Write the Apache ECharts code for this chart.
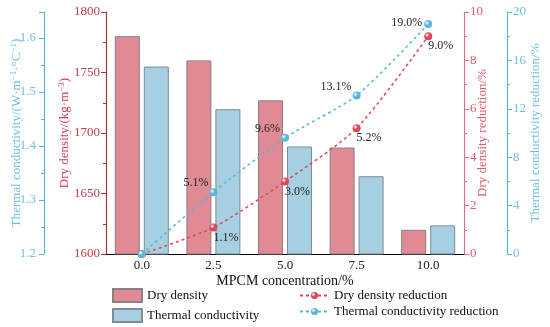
<!DOCTYPE html>
<html><head><meta charset="utf-8">
<script src="https://cdn.jsdelivr.net/npm/echarts@6/dist/echarts.min.js"></script>
<style>html,body{margin:0;padding:0;background:#fff}#c{width:550px;height:327px}</style>
</head><body><div id="c"></div>
<script>
const categories = ['0.0', '2.5', '5.0', '7.5', '10.0'];
const dryDensity = [1780, 1760, 1727, 1688, 1620];
const thermalConductivity = [1.547, 1.468, 1.399, 1.344, 1.253];
const dryDensityReduction = [0, 1.1, 3.0, 5.2, 9.0];
const thermalReduction = [0, 5.1, 9.6, 13.1, 19.0];

const FONT = 'Liberation Serif';
const RED_DARK = '#a8323f';
const RED = '#d9475b';
const RED_LIGHT = '#e27081';
const BLUE = '#5ab6d8';
const BAR_RED = '#e08a96';
const BAR_BLUE = '#a6d0e2';

function sphere(c) {
  return {type: 'radial', x: 0.35, y: 0.35, r: 0.7,
    colorStops: [{offset: 0, color: '#ffffff'}, {offset: 0.45, color: c}, {offset: 1, color: c}]};
}
const sup = {sup: {fontSize: 9, verticalAlign: 'top', padding: [0,0,6,0], fontFamily: FONT}};
const pct = p => p.value === 0 ? '' : p.value.toFixed(1) + '%';

const chart = echarts.init(document.getElementById('c'));
chart.setOption({
  animation: false,
  textStyle: {fontFamily: FONT},
  grid: {left: 106, right: 86, top: 12, bottom: 73, containLabel: false, outerBoundsMode: 'none'},
  xAxis: [{
    type: 'category', data: categories, position: 'bottom',
    axisLine: {lineStyle: {color: '#000', width: 1.2}},
    axisTick: {alignWithLabel: true, length: 4, lineStyle: {color: '#000'}},
    axisLabel: {color: '#222', fontSize: 13, fontFamily: FONT, margin: 5},
    name: 'MPCM concentration/%', nameLocation: 'middle', nameGap: 20, nameMoveOverlap: false,
    nameTextStyle: {color: '#111', fontSize: 14, fontFamily: FONT}
  }, {
    type: 'category', data: categories, position: 'top',
    axisLine: {lineStyle: {color: '#000', width: 1.2}},
    axisTick: {show: false}, axisLabel: {show: false}
  }],
  yAxis: [{
    type: 'value', position: 'left', offset: 0, min: 1600, max: 1800, interval: 50,
    axisLine: {show: true, lineStyle: {color: RED_DARK, width: 1.2}},
    axisTick: {show: true, length: 5, lineStyle: {color: RED_DARK}},
    minorTick: {show: true, splitNumber: 2, length: 3, lineStyle: {color: RED_DARK}},
    splitLine: {show: false},
    axisLabel: {color: '#c43a4d', fontSize: 13, fontFamily: FONT, margin: 6, formatter: v => String(v)},
    name: 'Dry density/(kg·m{sup|−3})', nameLocation: 'middle', nameGap: 34, nameMoveOverlap: false,
    nameTextStyle: {color: '#d23d52', fontSize: 13, fontFamily: FONT, rich: sup}
  }, {
    type: 'value', position: 'left', offset: 62, min: 1.2, max: 1.648, interval: 0.1,
    axisLine: {show: true, lineStyle: {color: BLUE, width: 1.2}},
    axisTick: {show: true, length: 5, lineStyle: {color: BLUE}},
    minorTick: {show: true, splitNumber: 2, length: 3, lineStyle: {color: BLUE}},
    splitLine: {show: false},
    axisLabel: {color: '#6fc0de', fontSize: 13, fontFamily: FONT, margin: 8, showMaxLabel: false,
      formatter: v => (Math.abs(v*10 - Math.round(v*10)) < 1e-6 ? v.toFixed(1) : '')},
    name: 'Thermal conductivity/(W·m{sup|−1}·°C{sup|−1})', nameLocation: 'middle', nameGap: 20, nameMoveOverlap: false,
    nameTextStyle: {color: '#6fc0de', fontSize: 13, fontFamily: FONT, rich: sup}
  }, {
    type: 'value', position: 'right', offset: 0, min: 0, max: 10, interval: 2,
    axisLine: {show: true, lineStyle: {color: RED_LIGHT, width: 1.2}},
    axisTick: {show: true, length: 5, lineStyle: {color: RED_LIGHT}},
    minorTick: {show: true, splitNumber: 2, length: 3, lineStyle: {color: RED_LIGHT}},
    splitLine: {show: false},
    axisLabel: {color: '#e05a6c', fontSize: 13, fontFamily: FONT, margin: 6},
    name: 'Dry density reduction/%', nameLocation: 'middle', nameGap: 12, nameMoveOverlap: false,
    nameTextStyle: {color: '#e05a6c', fontSize: 13, fontFamily: FONT}
  }, {
    type: 'value', position: 'right', offset: 43, min: 0, max: 20, interval: 4,
    axisLine: {show: true, lineStyle: {color: BLUE, width: 1.2}},
    axisTick: {show: true, length: 5, lineStyle: {color: BLUE}},
    minorTick: {show: true, splitNumber: 2, length: 3, lineStyle: {color: BLUE}},
    splitLine: {show: false},
    axisLabel: {color: '#6fc0de', fontSize: 13, fontFamily: FONT, margin: 6},
    name: 'Thermal conductivity reduction/%', nameLocation: 'middle', nameGap: 22, nameMoveOverlap: false,
    nameTextStyle: {color: '#6fc0de', fontSize: 13, fontFamily: FONT}
  }],
  legend: [{
    data: ['Dry density', 'Thermal conductivity'], orient: 'vertical', left: 112, top: 288,
    padding: 0, height: 40, icon: 'rect',
    itemWidth: 29, itemHeight: 13, itemGap: 5,
    textStyle: {fontFamily: FONT, fontSize: 13, color: '#111'}
  }, {
    data: ['Dry density reduction', 'Thermal conductivity reduction'], orient: 'vertical', left: 299, top: 289,
    padding: 0, height: 40,
    itemWidth: 29, itemHeight: 9, itemGap: 3,
    textStyle: {fontFamily: FONT, fontSize: 13, color: '#111'}
  }],
  series: [{
    name: 'Dry density', type: 'bar', xAxisIndex: 0, yAxisIndex: 0, data: dryDensity,
    barWidth: 25, barGap: '16%',
    itemStyle: {color: BAR_RED, borderColor: '#8d7f82', borderWidth: 1}
  }, {
    name: 'Thermal conductivity', type: 'bar', xAxisIndex: 0, yAxisIndex: 1, data: thermalConductivity,
    barWidth: 25, barGap: '16%',
    itemStyle: {color: BAR_BLUE, borderColor: '#7f8d92', borderWidth: 1}
  }, {
    name: 'Dry density reduction', type: 'line', xAxisIndex: 0, yAxisIndex: 2, data: dryDensityReduction,
    smooth: 0.25, symbol: 'circle', symbolSize: 8, z: 5,
    lineStyle: {color: RED, width: 1.5, type: [3, 3]},
    itemStyle: {color: sphere(RED)},
    label: {show: true, position: 'right', offset: [-9, 10], fontFamily: FONT, fontSize: 12, color: '#222',
      formatter: pct}
  }, {
    name: 'Thermal conductivity reduction', type: 'line', xAxisIndex: 0, yAxisIndex: 3,
    data: thermalReduction.map((v, i) => i === thermalReduction.length - 1 ? {value: v, label: {offset: [3, -1]}} : v),
    smooth: 0.25, symbol: 'circle', symbolSize: 8, z: 5,
    lineStyle: {color: BLUE, width: 1.5, type: [3, 3]},
    itemStyle: {color: sphere(BLUE)},
    label: {show: true, position: 'left', offset: [4, -9], fontFamily: FONT, fontSize: 12, color: '#222',
      formatter: pct}
  }]
});
</script></body></html>
